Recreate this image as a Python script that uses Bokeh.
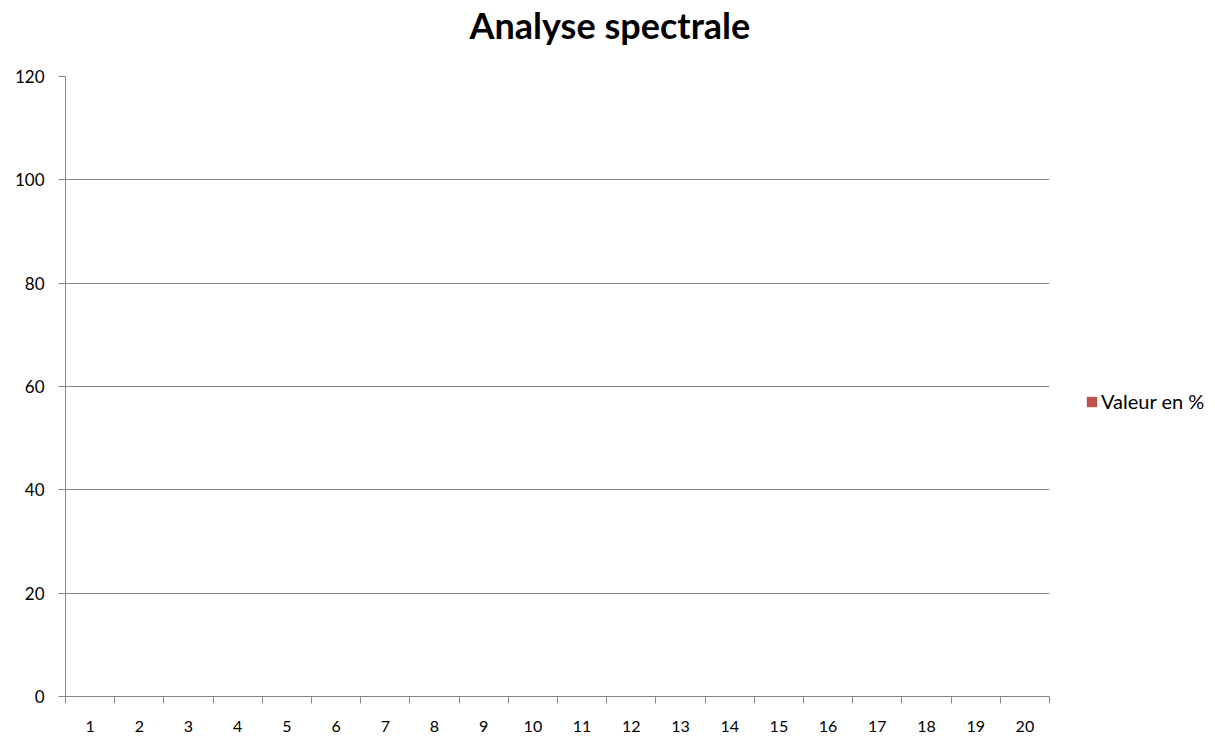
from bokeh.plotting import figure
from bokeh.models import Range1d, FixedTicker, Legend, LegendItem, Title, ColumnDataSource
from bokeh.embed import file_html
from bokeh.resources import INLINE

# ---- data ----
categories = [1, 2, 3, 4, 5, 6, 7, 8, 9, 10, 11, 12, 13, 14, 15, 16, 17, 18, 19, 20]
valeurs = [0, 0, 0, 0, 0, 0, 0, 0, 0, 0, 0, 0, 0, 0, 0, 0, 0, 0, 0, 0]
y_ticks = [0, 20, 40, 60, 80, 100, 120]
series_name = "Valeur en %"
title_text = "Analyse spectrale"

FONT = "Lato"
GRAY = "#868686"

p = figure(width=1215, height=737, frame_width=984, frame_height=620,
           output_backend="svg", toolbar_location=None,
           x_range=Range1d(0.5, 20.5), y_range=Range1d(0, 120),
           min_border_left=65, min_border_right=166, min_border_top=76, min_border_bottom=41)
p.outline_line_color = None
p.background_fill_color = "white"
p.border_fill_color = "white"

src = ColumnDataSource(dict(x=categories, top=valeurs))
r = p.vbar(x="x", top="top", width=0.6, source=src, fill_color="#C0504D", line_color=None)

# x axis
bounds = [c - 0.5 for c in categories] + [categories[-1] + 0.5]
p.xaxis.ticker = FixedTicker(ticks=categories, minor_ticks=bounds)
p.xaxis.major_tick_line_color = None
p.xaxis.major_tick_out = 0
p.xaxis.major_tick_in = 0
p.xaxis.minor_tick_out = 7
p.xaxis.minor_tick_in = 0
p.xaxis.minor_tick_line_color = GRAY
p.xaxis.axis_line_color = GRAY
p.xaxis.major_label_standoff = 17
p.xaxis.major_label_text_font = FONT
p.xaxis.major_label_text_font_size = "16px"
p.xaxis.major_label_text_color = "black"

# y axis
p.yaxis.ticker = FixedTicker(ticks=y_ticks)
p.yaxis.major_tick_out = 7
p.yaxis.major_tick_in = 0
p.yaxis.minor_tick_line_color = None
p.yaxis.major_tick_line_color = GRAY
p.yaxis.axis_line_color = GRAY
p.yaxis.major_label_standoff = 14
p.yaxis.major_label_text_font = FONT
p.yaxis.major_label_text_font_size = "17px"
p.yaxis.major_label_text_color = "black"

p.xgrid.grid_line_color = None
p.ygrid.grid_line_color = GRAY
p.ygrid.grid_line_width = 1

# title (with a small spacer panel between title and plot area)
spacer = Title(text=" ", text_font_size="8px", standoff=19, text_color="white")
p.add_layout(spacer, "above")
t = Title(text=title_text, align="left", offset=404, text_font=FONT,
          text_font_size="36px", text_font_style="bold", text_color="black", standoff=0)
p.add_layout(t, "above")

# legend
legend = Legend(items=[LegendItem(label=series_name, renderers=[r])],
                location=(36, 283), padding=0, margin=0, spacing=0,
                glyph_width=13, glyph_height=13, label_standoff=3,
                label_text_font=FONT, label_text_font_size="20px", label_text_color="black",
                border_line_color=None, background_fill_alpha=0)
p.add_layout(legend, "right")

open("out.html", "w").write(file_html(p, INLINE))
